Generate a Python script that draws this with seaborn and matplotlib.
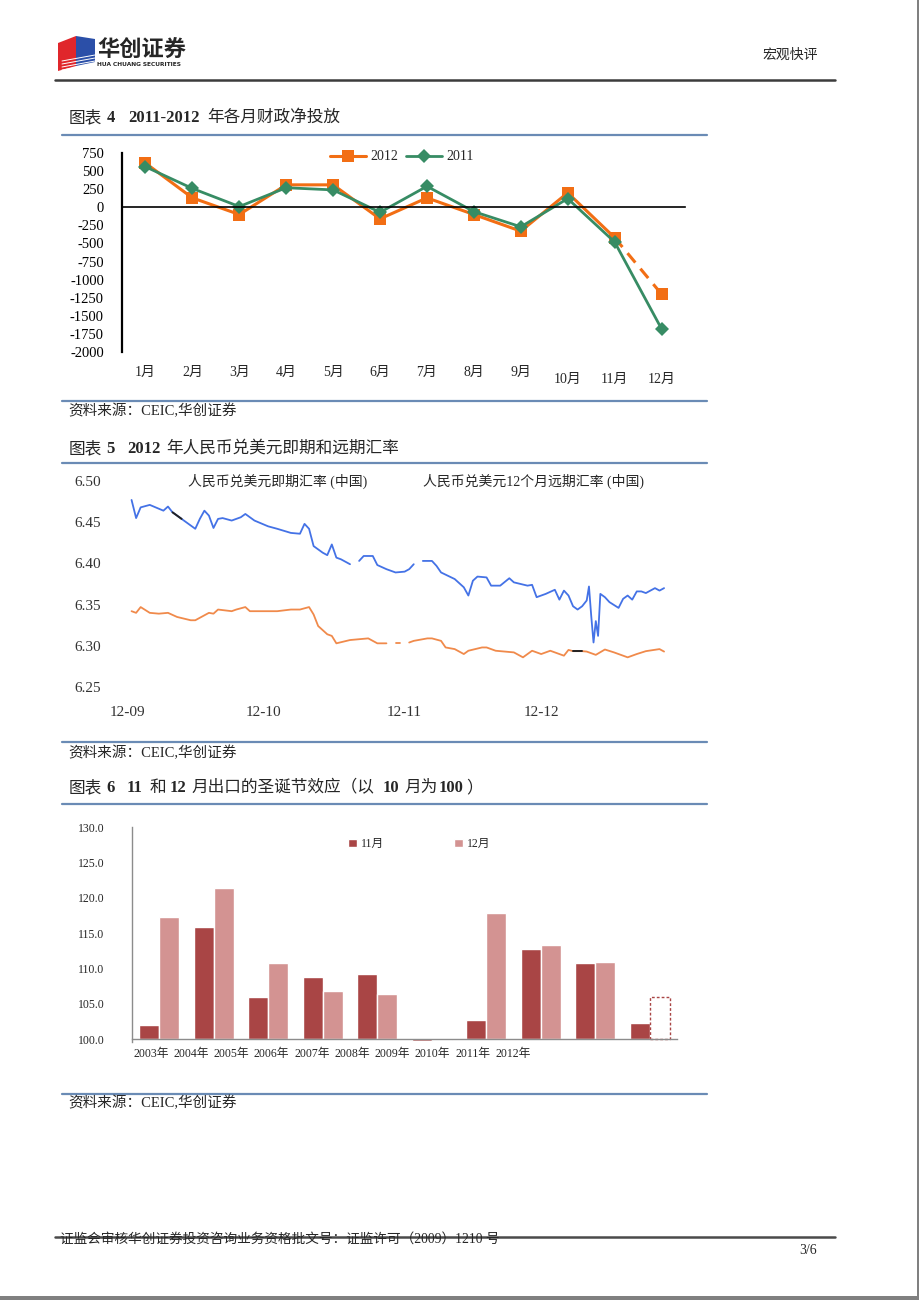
import numpy as np
import pandas as pd
import matplotlib
matplotlib.use("Agg")
import matplotlib.pyplot as plt
import matplotlib.dates as mdates
from matplotlib.lines import Line2D
from matplotlib.patches import Polygon, Rectangle
import seaborn as sns

W, H = 920, 1300

# ---- chart 4: monthly fiscal net injection (100 mn yuan)
months = [f"{i}月" for i in range(1, 13)]
fiscal_2012 = [610, 130, -100, 310, 310, -160, 130, -100, -330, 200, -420, -1200]
fiscal_2011 = [560, 260, 10, 270, 240, -70, 290, -60, -270, 120, -480, -1680]

# ---- chart 5: CNY/USD spot and 12m forward (None = missing)
fwd_dates = [
    "2012-09-02", "2012-09-03", "2012-09-04", "2012-09-06", "2012-09-09", "2012-09-10",
    "2012-09-11", "2012-09-13", "2012-09-15", "2012-09-16", "2012-09-17", "2012-09-18",
    "2012-09-19", "2012-09-20", "2012-09-21", "2012-09-22", "2012-09-24", "2012-09-26",
    "2012-09-27", "2012-09-29", "2012-10-02", "2012-10-04", "2012-10-07", "2012-10-09",
    "2012-10-10", "2012-10-11", "2012-10-12", "2012-10-14", "2012-10-15", "2012-10-16",
    "2012-10-17", "2012-10-18", "2012-10-19", "2012-10-20", "2012-10-21", "2012-10-22",
    "2012-10-23", "2012-10-25", "2012-10-26", "2012-10-28", "2012-10-30", "2012-11-01",
    "2012-11-02", "2012-11-03", "2012-11-04", "2012-11-05", "2012-11-07", "2012-11-08",
    "2012-11-09", "2012-11-12", "2012-11-14", "2012-11-15", "2012-11-16", "2012-11-17",
    "2012-11-19", "2012-11-20", "2012-11-22", "2012-11-24", "2012-11-25", "2012-11-28",
    "2012-11-29", "2012-11-30", "2012-12-02", "2012-12-04", "2012-12-05", "2012-12-06",
    "2012-12-07", "2012-12-08", "2012-12-09", "2012-12-10", "2012-12-11",
    "2012-12-11 12:00", "2012-12-12", "2012-12-12 12:00", "2012-12-13",
    "2012-12-13 12:00", "2012-12-14", "2012-12-15", "2012-12-16", "2012-12-18",
    "2012-12-19", "2012-12-20", "2012-12-21", "2012-12-22", "2012-12-23", "2012-12-24",
    "2012-12-26", "2012-12-27", "2012-12-28",
]
fwd_rates = [
    6.477, 6.455, 6.468, 6.471, 6.464, 6.469,
    6.462, 6.454, 6.446, 6.442, 6.454, 6.464,
    6.458, 6.443, 6.454, 6.455, 6.452, 6.456,
    6.460, 6.452, 6.445, 6.442, 6.437, 6.436,
    6.448, 6.442, 6.421, 6.413, 6.410, 6.423,
    6.407, 6.405, 6.402, 6.399, None, 6.403,
    6.409, 6.409, 6.398, 6.393, 6.389, 6.390,
    6.393, 6.399, None, 6.403, 6.403, 6.397,
    6.389, 6.381, 6.371, 6.361, 6.379, 6.384,
    6.383, 6.373, 6.373, 6.382, 6.377, 6.373,
    6.374, 6.359, 6.363, 6.368, 6.356, 6.367,
    6.361, 6.348, 6.344, 6.348, 6.355,
    6.372, 6.336, 6.304, 6.330,
    6.312, 6.363, 6.359, 6.353, 6.346,
    6.357, 6.361, 6.356, 6.366, 6.366, 6.364,
    6.370, 6.367, 6.370,
]
spot_dates = [
    "2012-09-02", "2012-09-03", "2012-09-04", "2012-09-06", "2012-09-08", "2012-09-10",
    "2012-09-12", "2012-09-15", "2012-09-16", "2012-09-19", "2012-09-20", "2012-09-21",
    "2012-09-24", "2012-09-25", "2012-09-27", "2012-09-28", "2012-10-04", "2012-10-07",
    "2012-10-09", "2012-10-11", "2012-10-12", "2012-10-13", "2012-10-15", "2012-10-16",
    "2012-10-17", "2012-10-20", "2012-10-22", "2012-10-24", "2012-10-26", "2012-10-28",
    "2012-10-29", "2012-10-30", "2012-10-31", "2012-11-01", "2012-11-02", "2012-11-03",
    "2012-11-06", "2012-11-07", "2012-11-09", "2012-11-10", "2012-11-12", "2012-11-14",
    "2012-11-15", "2012-11-18", "2012-11-19", "2012-11-21", "2012-11-25", "2012-11-27",
    "2012-11-29", "2012-12-01", "2012-12-03", "2012-12-04", "2012-12-06", "2012-12-07",
    "2012-12-08", "2012-12-10", "2012-12-11", "2012-12-13", "2012-12-15", "2012-12-17",
    "2012-12-20", "2012-12-22", "2012-12-24", "2012-12-27", "2012-12-28",
]
spot_rates = [
    6.342, 6.340, 6.347, 6.340, 6.339, 6.340,
    6.335, 6.331, 6.331, 6.340, 6.339, 6.344,
    6.342, 6.344, 6.347, 6.342, 6.342, 6.344,
    6.344, 6.347, 6.338, 6.324, 6.314, 6.312,
    6.303, 6.307, 6.308, 6.309, 6.303, 6.303,
    None, 6.303, 6.303, None, 6.304, 6.306,
    6.309, 6.309, 6.306, 6.298, 6.296, 6.290,
    6.294, 6.298, 6.298, 6.294, 6.292, 6.286,
    6.294, 6.290, 6.294, 6.292, 6.288, 6.295,
    6.2935, 6.2935, 6.293, 6.289, 6.2955, 6.292,
    6.286, 6.290, 6.2935, 6.296, 6.293,
]
rate_ticks = ["2012-09-01", "2012-10-01", "2012-11-01", "2012-12-01"]
rate_tick_labels = ["12-09", "12-10", "12-11", "12-12"]

# ---- chart 6: Nov / Dec exports (Oct = 100)
years = ["2003年", "2004年", "2005年", "2006年", "2007年",
         "2008年", "2009年", "2010年", "2011年", "2012年"]
nov_index = [102.0, 115.9, 106.0, 108.8, 109.2, 99.75, 102.7, 112.8, 110.7, 102.2]
dec_index = [117.3, 121.4, 110.8, 106.8, 106.3, 99.8, 117.9, 113.3, 110.9, 106.0]

sns.set_style("white")
plt.rcParams["font.family"] = ["Liberation Serif", "Noto Sans CJK SC"]
plt.rcParams["axes.unicode_minus"] = False

fig = plt.figure(figsize=(W / 100, H / 100), dpi=100)
fig.patch.set_facecolor("white")


def px_axes(x0, y0, x1, y1):
    return fig.add_axes([x0 / W, 1 - y1 / H, (x1 - x0) / W, (y1 - y0) / H])


def hline(x0, x1, y, color="#6a8bb5", lw=1.6):
    fig.add_artist(Line2D([x0 / W, x1 / W], [1 - y / H] * 2,
                          transform=fig.transFigure, color=color, lw=lw))


def put(x, y, s, **kw):
    kw.setdefault("va", "center")
    return fig.text(x / W, 1 - y / H, s, **kw)


# ---------------- page header
fig.add_artist(Polygon([(58 / W, 1 - 43 / H), (76 / W, 1 - 36 / H), (76 / W, 1 - 66 / H),
                        (58 / W, 1 - 71 / H)], closed=True, transform=fig.transFigure,
                       facecolor="#e0262b", edgecolor="none"))
fig.add_artist(Polygon([(76 / W, 1 - 36 / H), (95 / W, 1 - 39 / H), (95 / W, 1 - 62 / H),
                        (76 / W, 1 - 66 / H)], closed=True, transform=fig.transFigure,
                       facecolor="#2b4fa8", edgecolor="none"))
for k in range(5):
    yy = 55 + k * 3
    fig.add_artist(Line2D([62 / W, 95 / W], [1 - (yy + 6) / H, 1 - yy / H],
                          transform=fig.transFigure, color="white", lw=0.7))
put(97, 50, "华创证券", fontsize=16, fontweight="bold", family="Noto Sans CJK SC")
put(97, 65, "HUA CHUANG SECURITIES", fontsize=4.2, fontweight="bold", family="DejaVu Sans")
put(790, 55, "宏观快评", fontsize=10, ha="center", family="Noto Sans CJK SC")
hline(55, 835, 80, color="#3c3c3c", lw=1.8)


def title(y, parts):
    for x, s, bold in parts:
        put(x, y, s, fontsize=12, fontweight="bold" if bold else "normal")


# ---------------- chart 4
title(118, [(69, "图表", False), (107, "4", True), (128, "2011-2012", True),
            (207, "年各月财政净投放", False)])
hline(62, 707, 135)

ax1 = px_axes(122, 153, 685, 352)
df1 = pd.DataFrame({"m": np.arange(12), "y2012": fiscal_2012, "y2011": fiscal_2011})
orange, green = "#f26e14", "#378c64"
sns.lineplot(data=df1.iloc[:11], x="m", y="y2012", color=orange, lw=2.2, marker="s",
             markersize=8.5, markeredgewidth=0, ax=ax1)
sns.lineplot(data=df1.iloc[10:], x="m", y="y2012", color=orange, lw=2.2, marker="s",
             markersize=8.5, markeredgewidth=0, linestyle=(0, (4, 2.6)), ax=ax1)
sns.lineplot(data=df1, x="m", y="y2011", color=green, lw=2.0, marker="D",
             markersize=7.5, markeredgewidth=0, ax=ax1)
ax1.set_xlim(-0.5, 11.5)
ax1.set_ylim(-2000, 750)
ax1.set_yticks(range(-2000, 751, 250))
ax1.set_xticks(np.arange(0.5, 11.6, 1))
ax1.set_xticklabels([])
ax1.set(xlabel="", ylabel="")
for s in ["top", "right"]:
    ax1.spines[s].set_visible(False)
ax1.spines["bottom"].set_position(("data", 0))
ax1.spines["left"].set_linewidth(1.6)
ax1.spines["bottom"].set_linewidth(1.2)
for s in ["left", "bottom"]:
    ax1.spines[s].set_color("black")
ax1.tick_params(axis="y", direction="inout", length=6, width=1.4, labelsize=10.5, pad=10, colors="black")
ax1.tick_params(axis="x", direction="in", length=4, width=1.2, colors="black")
tr1 = ax1.get_xaxis_transform()
for i, m in enumerate(months):
    ax1.text(i, -0.105 if i < 9 else -0.14, m, transform=tr1, ha="center", va="center", fontsize=10)
handles = [Line2D([], [], color=orange, lw=2.2, marker="s", markersize=8.5, markeredgewidth=0),
           Line2D([], [], color=green, lw=2.0, marker="D", markersize=7.5, markeredgewidth=0)]
ax1.legend(handles, ["2012", "2011"], loc="center", bbox_to_anchor=(0.497, 0.98), ncol=2,
           frameon=False, fontsize=10, handlelength=2.6, handletextpad=0.3, columnspacing=0.6)

hline(62, 707, 401)
put(68, 411, "资料来源：CEIC,华创证券", fontsize=10.5)

# ---------------- chart 5
title(449, [(69, "图表", False), (106, "5", True), (127, "2012", True),
            (166, "年人民币兑美元即期和远期汇率", False)])
hline(62, 707, 463)

ax2 = px_axes(123, 481, 680, 687)
blue, lorange = "#4472e6", "#f08a4b"
for dates, rates, col, dark in [(fwd_dates, fwd_rates, blue, ("2012-09-11", "2012-09-13")),
                                (spot_dates, spot_rates, lorange, ("2012-12-08", "2012-12-10"))]:
    d = pd.DataFrame({"date": pd.to_datetime(dates, format="mixed"), "rate": rates})
    d["rate"] = d["rate"].astype(float)
    d["seg"] = d["rate"].isna().cumsum()
    d = d.dropna()
    sns.lineplot(data=d, x="date", y="rate", units="seg", estimator=None, color=col,
                 lw=1.3, ax=ax2)
    sub = d[(d["date"] >= dark[0]) & (d["date"] <= dark[1])]
    sns.lineplot(data=sub, x="date", y="rate", estimator=None, color="#222222", lw=1.4, ax=ax2)

x0 = mdates.date2num(pd.Timestamp("2012-09-01"))
ax2.set_xlim(x0 - 0.88, x0 + 121.5)
ax2.set_ylim(6.25, 6.50)
ax2.set_yticks(np.arange(6.25, 6.501, 0.05))
ax2.set_yticklabels([f"{v:.2f}" for v in np.arange(6.25, 6.501, 0.05)])
ax2.set_xticks([mdates.date2num(pd.Timestamp(t)) for t in rate_ticks])
ax2.set_xticklabels(rate_tick_labels)
ax2.set(xlabel="", ylabel="")
for s in ax2.spines.values():
    s.set_visible(False)
ax2.tick_params(axis="y", length=1.5, width=2, colors="#333333", labelsize=11, pad=14)
ax2.tick_params(axis="x", length=1.5, width=2, colors="#333333", labelsize=11, pad=12)
for t in [ax2.yaxis.get_major_ticks()[0], ax2.yaxis.get_major_ticks()[-1],
          ax2.xaxis.get_major_ticks()[0]]:
    t.tick1line.set_visible(False)
blank = [Line2D([], [], color="none"), Line2D([], [], color="none")]
ax2.legend(blank, ["人民币兑美元即期汇率 (中国)", "人民币兑美元12个月远期汇率 (中国)"],
           loc="center", bbox_to_anchor=(0.526, 1.0), ncol=2, frameon=False, fontsize=10,
           handlelength=0, handletextpad=0, columnspacing=4.0)

hline(62, 707, 742)
put(68, 753, "资料来源：CEIC,华创证券", fontsize=10.5)

# ---------------- chart 6
title(788, [(69, "图表", False), (106, "6", True), (127, "11", True), (150, "和", False),
            (170, "12", True), (191, "月出口的圣诞节效应（以", False), (383, "10", True),
            (404, "月为", False), (439, "100", True), (466, "）", False)])
hline(62, 707, 804)

base_px, top_px, low = 1039, 827, -0.45
unit = (base_px - top_px) / 30
ax3 = px_axes(132, top_px, 677, base_px - low * unit)
df3 = pd.DataFrame({
    "year": years * 2,
    "month": ["11月"] * len(years) + ["12月"] * len(years),
    "delta": [v - 100 for v in nov_index + dec_index],
})
dark_red, pink = "#a94545", "#d39392"
sns.barplot(data=df3, x="year", y="delta", hue="month", palette=[dark_red, pink],
            width=0.73, saturation=1, ax=ax3)
for p in ax3.patches:
    if p.get_x() > 8.99 and p.get_width() > 0:
        p.set_facecolor("white")
        p.set_edgecolor(dark_red)
        p.set_linestyle((0, (2, 1.5)))
        p.set_linewidth(1.0)
ax3.set_ylim(low, 30)
ax3.set_xlim(-0.5, 9.5)
ax3.set_yticks(range(0, 31, 5))
ax3.set_yticklabels([f"{100 + t:.1f}" for t in range(0, 31, 5)])
ax3.set_xticks([])
ax3.set(xlabel="", ylabel="")
for s in ["top", "right"]:
    ax3.spines[s].set_visible(False)
ax3.spines["bottom"].set_position(("data", 0))
for s in ["left", "bottom"]:
    ax3.spines[s].set_color("#8c8c8c")
    ax3.spines[s].set_linewidth(1.0)
ax3.tick_params(axis="y", length=0, labelsize=8.5, pad=20)
for i, y in enumerate(years):
    put(151 + 40.2 * i, 1054, y, fontsize=8.5, ha="center")
h3, l3 = ax3.get_legend_handles_labels()
ax3.legend(h3, l3, loc="center", bbox_to_anchor=(0.527, 0.921), ncol=2, frameon=False,
           fontsize=8.5, handlelength=0.75, handleheight=0.75, handletextpad=0.3,
           columnspacing=6.0)

hline(62, 707, 1094)
put(68, 1103, "资料来源：CEIC,华创证券", fontsize=10.5)

# ---------------- footer
hline(55, 835, 1237, color="#4a4a4a", lw=1.8)
put(60, 1239, "证监会审核华创证券投资咨询业务资格批文号：证监许可（2009）1210 号", fontsize=9.8)
put(808, 1250, "3/6", fontsize=10, ha="center")
fig.add_artist(Rectangle((917 / W, 0), 3 / W, 1, transform=fig.transFigure,
                         facecolor="#808080", edgecolor="none"))
fig.add_artist(Rectangle((0, 0), 1, 4 / H, transform=fig.transFigure,
                         facecolor="#808080", edgecolor="none"))

fig.savefig("out.png", dpi=100)
